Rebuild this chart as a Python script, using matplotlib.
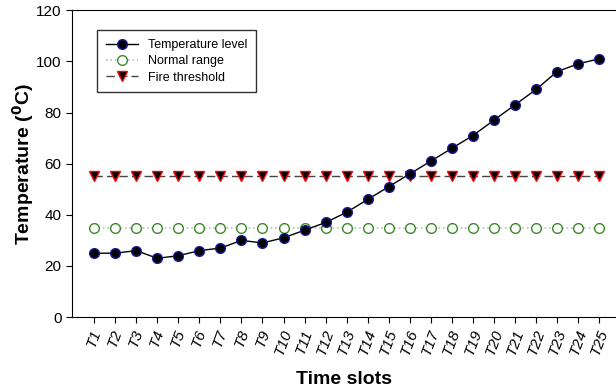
import matplotlib.pyplot as plt
import numpy as np

plt.rcParams['font.family'] = ['Liberation Sans', 'DejaVu Sans']

slots = ["T%d" % i for i in range(1, 26)]
temperature = [25, 25, 26, 23, 24, 26, 27, 30, 29, 31, 34, 37, 41, 46, 51,
               56, 61, 66, 71, 77, 83, 89, 96, 99, 101]
normal_range = [35] * 25
fire_threshold = [55] * 25

x = np.arange(len(slots))

fig = plt.figure(figsize=(6.16, 3.92), dpi=100)
ax = fig.add_axes([0.117, 0.191, 0.883, 0.783])

ax.plot(x, temperature, color='black', linewidth=1, marker='o', markersize=7,
        markerfacecolor='black', markeredgecolor='#1a1a9a', markeredgewidth=1,
        label='Temperature level', zorder=4)
ax.plot(x, normal_range, color='#b0c4b0', linestyle=':', linewidth=1.2,
        marker='o', markersize=7, markerfacecolor='white',
        markeredgecolor='#3a8a2a', markeredgewidth=1, label='Normal range', zorder=3)
ax.plot(x, fire_threshold, color='#444444', linestyle=(0, (6, 3)), linewidth=1,
        marker='v', markersize=7, markerfacecolor='black',
        markeredgecolor='red', markeredgewidth=1, label='Fire threshold', zorder=3)

ax.set_xlim(-1.05, 24.8)
ax.set_ylim(0, 120)
ax.set_yticks(range(0, 121, 20))
ax.set_xticks(x)
ax.set_xticklabels(slots, rotation=70, style='italic', fontsize=11)
ax.tick_params(axis='y', labelsize=11)
ax.tick_params(length=4)
ax.spines['right'].set_visible(False)

ax.set_xlabel('Time slots', fontsize=14, fontweight='bold', labelpad=10)
ax.set_ylabel(r'Temperature ($\mathbf{^0}$C)', fontsize=14, fontweight='bold',
              labelpad=0)

leg = ax.legend(loc='upper left', bbox_to_anchor=(0.046, 0.935), fontsize=9,
                frameon=True, fancybox=False, edgecolor='black',
                handlelength=2.6, borderpad=0.7, labelspacing=0.35,
                borderaxespad=0)
leg.get_frame().set_linewidth(1)

fig.savefig('out.png', dpi=100)
